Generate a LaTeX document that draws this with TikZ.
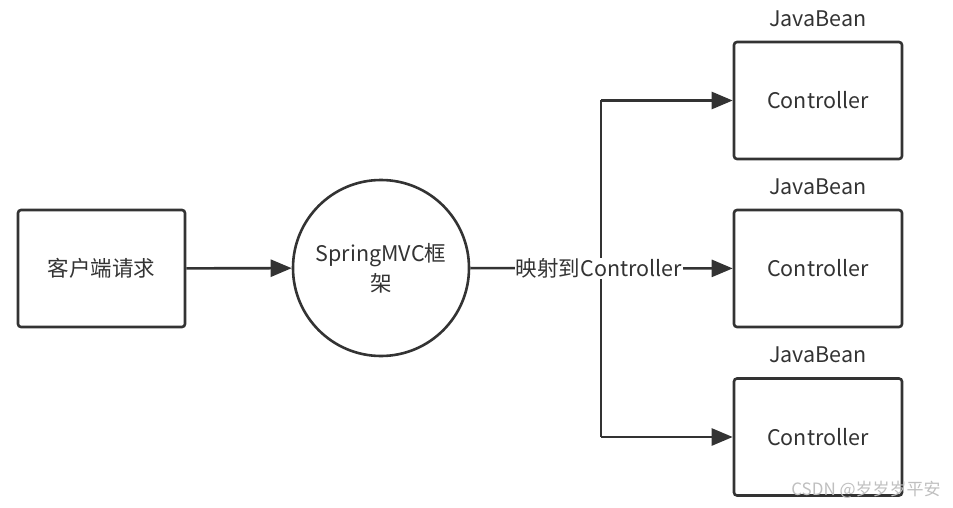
\documentclass[tikz,border=0pt]{standalone}
\usepackage{fontspec}
\newfontfamily\cjk{Noto Sans CJK SC}
\usetikzlibrary{positioning,arrows.meta}
\definecolor{ink}{HTML}{333333}
\begin{document}
\begin{tikzpicture}[
    x=1pt, y=-1pt,
    node distance=0pt,
    box/.style={
        draw=ink, rectangle, rounded corners=3pt, line width=2.6pt,
        minimum width=167pt, minimum height=117pt,
        font=\cjk\fontsize{21.5}{26}\selectfont, text=ink
    },
    ctrlbox/.style={box, minimum width=168pt},
    hub/.style={
        draw=ink, circle, line width=2.6pt, minimum size=176pt,
        align=center, font=\cjk\fontsize{21.5}{30}\selectfont, text=ink
    },
    beanlabel/.style={font=\cjk\fontsize{21.5}{26}\selectfont, text=ink, inner sep=0pt},
    wire/.style={draw=ink, line width=2.6pt},
    arrow/.style={wire, -{Triangle[length=21pt,width=17pt]}},
    maplabel/.style={font=\cjk\fontsize{21.5}{26}\selectfont, text=ink, fill=white, inner sep=1pt},
    wmark/.style={font=\cjk\fontsize{17}{20}\selectfont, text=black!25}
]
\useasboundingbox (0,0) rectangle (953,508);

% ===== Request and framework =====
\node[box] (client) at (101.5,268.5) {客户端请求};
\node[hub] (mvc) at (381,268) {SpringMVC框\\架};

\draw[arrow] (client) -- (mvc);

% ===== Controllers =====
\node[ctrlbox] (ctrlA) at (818,100.5) {Controller};
\node[ctrlbox] (ctrlB) at (818,268.5) {Controller};
\node[ctrlbox] (ctrlC) at (818,437)   {Controller};

\node[beanlabel, above=14pt of ctrlA] (beanA) {JavaBean};
\node[beanlabel, above=14pt of ctrlB] (beanB) {JavaBean};
\node[beanlabel, above=14pt of ctrlC] (beanC) {JavaBean};

% ===== Mapping =====
\coordinate (fork) at (601,268.5);
\draw[wire] (fork |- ctrlA) -- (fork |- ctrlC);
\draw[arrow] (mvc) -- (ctrlB);
\draw[arrow] (fork |- ctrlA) -- (ctrlA);
\draw[arrow] (fork |- ctrlC) -- (ctrlC);
\node[maplabel] (maplbl) at (599,268.5) {映射到Controller};

% watermark
\node[wmark] (wm) at (866,490) {CSDN @岁岁岁平安};

\end{tikzpicture}
\end{document}
